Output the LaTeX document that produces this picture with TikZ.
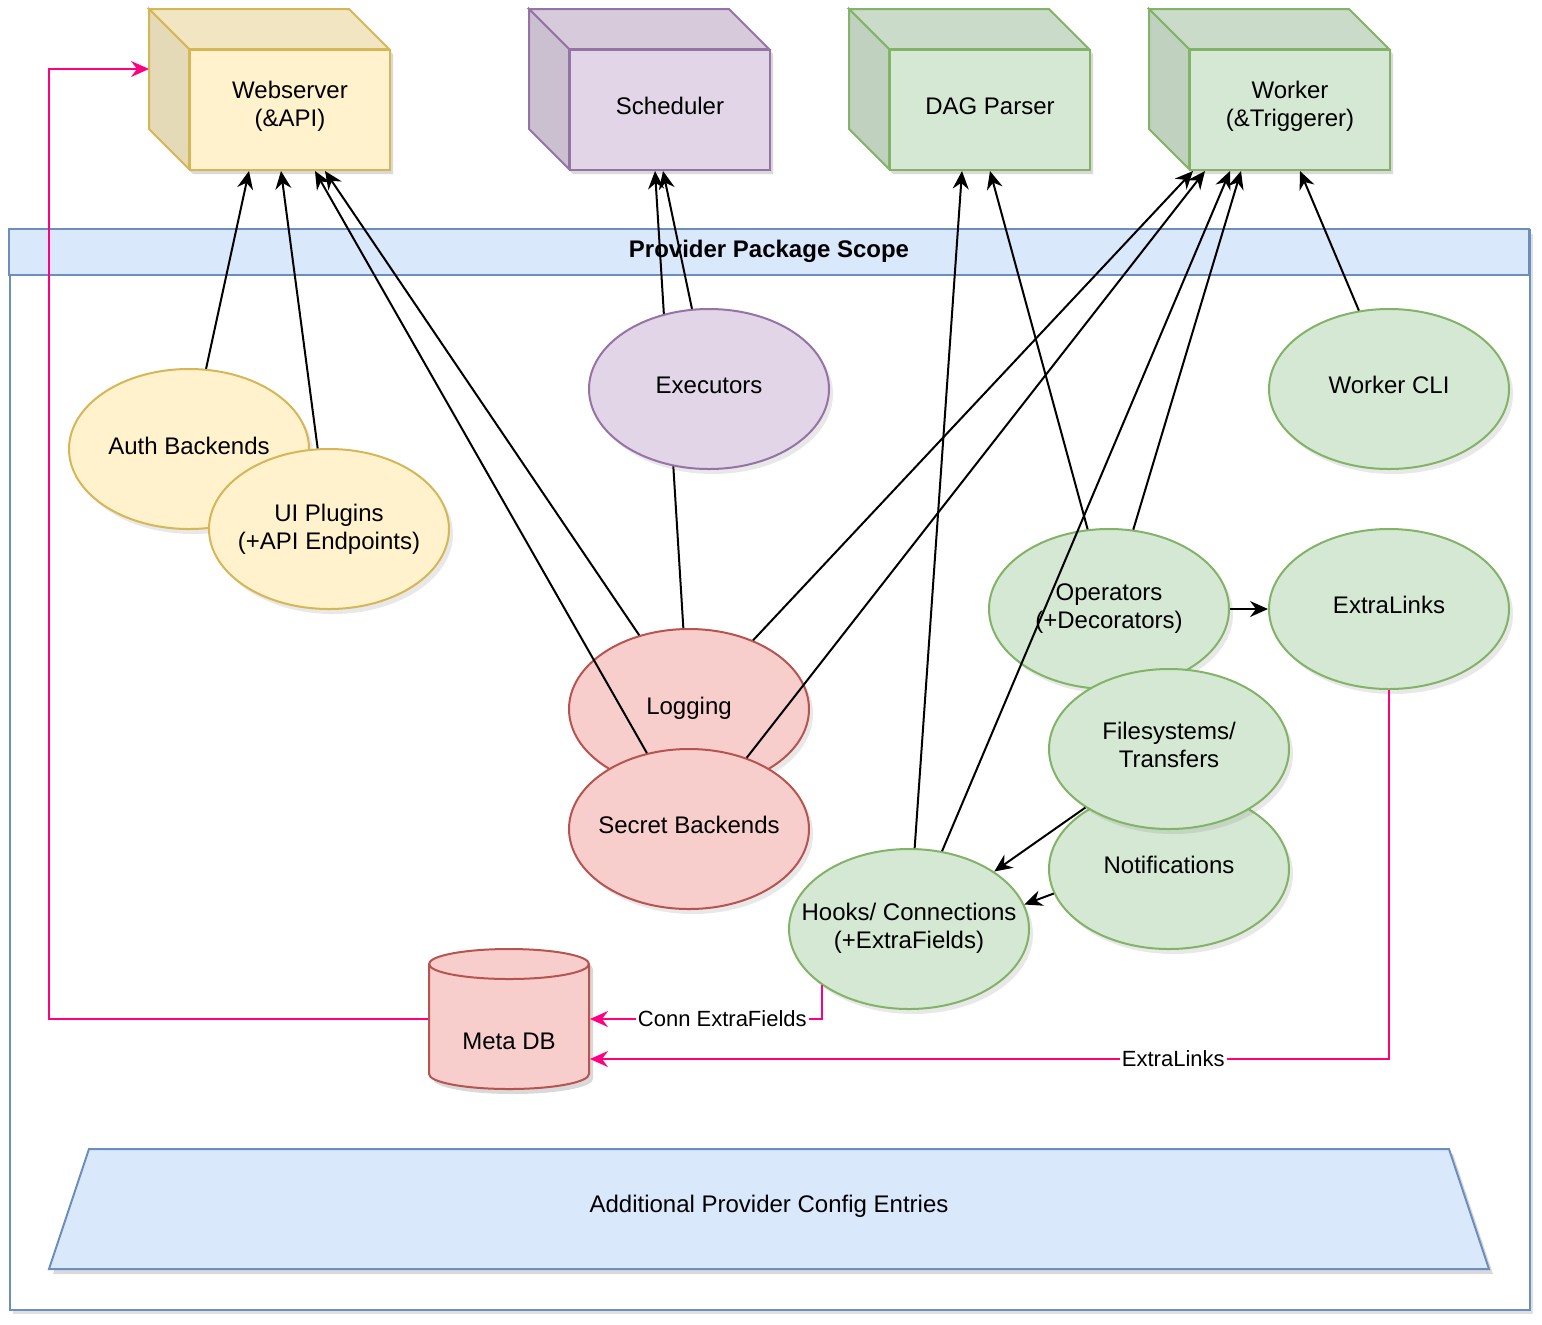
\documentclass[tikz,border=0pt]{standalone}
\usepackage{fontspec}
\setmainfont{Liberation Sans}
\usetikzlibrary{shapes.geometric,arrows.meta,shadows,calc}
\definecolor{yfill}{HTML}{FFF2CC}\definecolor{ystroke}{HTML}{D6B656}
\definecolor{pfill}{HTML}{E1D5E7}\definecolor{pstroke}{HTML}{9673A6}
\definecolor{gfill}{HTML}{D5E8D4}\definecolor{gstroke}{HTML}{82B366}
\definecolor{rfill}{HTML}{F8CECC}\definecolor{rstroke}{HTML}{B85450}
\definecolor{bfill}{HTML}{DAE8FC}\definecolor{bstroke}{HTML}{6C8EBF}
\definecolor{pinkline}{HTML}{FF0080}
\newcommand\mycube[5]{%
\begin{scope}[shift={(#2,9)}]
\fill[black,opacity=.15] (4,5)--(204,5)--(244,45)--(244,165)--(44,165)--(4,125)--cycle;
\filldraw[fill=#3!95!black,draw=#4] (0,0)--(200,0)--(240,40)--(40,40)--cycle;
\filldraw[fill=#3!90!black,draw=#4] (0,0)--(40,40)--(40,160)--(0,120)--cycle;
\node[draw=#4,fill=#3,minimum width=100pt,minimum height=60pt,inner sep=0pt,anchor=north west] (#1) at (40,40) {};
\node[align=center] (#1-t) at ([yshift=2pt]#1.center) {#5};
\end{scope}}
\begin{document}
\begin{tikzpicture}[x=0.5pt,y=-0.5pt,line width=1pt,
  font=\fontsize{12}{14}\selectfont,
  ell/.style={ellipse,draw,minimum width=120pt,minimum height=80pt,inner sep=0pt,
    drop shadow={shadow xshift=2pt,shadow yshift=-2.5pt,opacity=.18}},
  yell/.style={ell,fill=yfill,draw=ystroke},
  pell/.style={ell,fill=pfill,draw=pstroke},
  gell/.style={ell,fill=gfill,draw=gstroke},
  rell/.style={ell,fill=rfill,draw=rstroke},
  txt/.style={align=center,inner sep=1pt},
  edge/.style={-{Stealth[length=9pt,width=8pt,inset=3pt]},draw=black},
  pedge/.style={edge,draw=pinkline},
  lbl/.style={fill=white,inner sep=1pt,font=\fontsize{11}{13}\selectfont}]
\useasboundingbox (0,0) rectangle (1542,1324);

% container
\fill[black,opacity=.12] (13,234) rectangle (1533,1314);
\node[draw=bstroke,fill=white,minimum width=760pt,minimum height=540pt,inner sep=0pt,anchor=north west] (pps) at (9,229) {};
\filldraw[fill=bfill,draw=bstroke] (9,229) rectangle (1529,275);
\node[font=\fontsize{12}{14}\selectfont\bfseries] (ppst) at (769,251) {Provider Package Scope};

% cubes
\mycube{web}{149}{yfill}{ystroke}{Webserver\\(\&API)}
\mycube{sch}{529}{pfill}{pstroke}{Scheduler}
\mycube{dag}{849}{gfill}{gstroke}{DAG Parser}
\mycube{wrk}{1149}{gfill}{gstroke}{Worker\\(\&Triggerer)}

% trapezoid
\fill[black,opacity=.15] (53,1274)--(93,1154)--(1453,1154)--(1493,1274)--cycle;
\filldraw[fill=bfill,draw=bstroke] (49,1269)--(89,1149)--(1449,1149)--(1489,1269)--cycle;
\node (addl) at (769,1206) {Additional Provider Config Entries};

% Meta DB cylinder
\fill[black,opacity=.15] (433,969) -- (433,1079) arc[start angle=180,end angle=360,x radius=40pt,y radius=7.5pt] -- (593,969) arc[start angle=0,end angle=180,x radius=40pt,y radius=7.5pt] -- cycle;
\filldraw[fill=rfill,draw=rstroke] (429,964) -- (429,1074) arc[start angle=180,end angle=360,x radius=40pt,y radius=7.5pt] -- (589,964) arc[start angle=0,end angle=180,x radius=40pt,y radius=7.5pt] -- cycle;
\draw[rstroke] (429,964) arc[start angle=180,end angle=360,x radius=40pt,y radius=7.5pt];
\node[minimum width=80pt,minimum height=70pt,inner sep=0pt] (db) at (509,1019) {};
\node (dbt) at (509,1041) {Meta DB};

% ellipses
\node[yell] (auth) at (189,449) {};
\node[txt] (autht) at ([yshift=1.5pt]auth.center) {Auth Backends};
\node[yell] (ui) at (329,529) {};
\node[txt] (uit) at (ui) {UI Plugins\\(+API Endpoints)};
\node[rell] (log) at (689,709) {};
\node[txt] (logt) at ([yshift=0.5pt]log.center) {Logging};

% edge hidden behind Executors
\draw[edge] (log.94.3) -- ([xshift=43pt]sch.south west);

\node[rell] (sec) at (689,829) {};
\node[txt] (sect) at ([yshift=2pt]sec.center) {Secret Backends};
\node[pell] (exe) at (709,389) {};
\node[txt] (exet) at ([yshift=2pt]exe.center) {Executors};
\node[gell] (wcli) at (1389,389) {};
\node[txt] (wclit) at ([yshift=2pt]wcli.center) {Worker CLI};
\node[gell] (ops) at (1109,609) {};
\node[txt] (opst) at ([yshift=0pt]ops.center) {Operators\\(+Decorators)};
\node[gell] (xl) at (1389,609) {};
\node[txt] (xlt) at ([yshift=2pt]xl.center) {ExtraLinks};
\node[gell] (notif) at (1169,869) {};
\node[txt] (notift) at ([yshift=2pt]notif.center) {Notifications};
\node[gell] (fs) at (1169,749) {};
\node[txt] (fst) at ([yshift=2pt]fs.center) {Filesystems/\\Transfers};
\node[gell] (hooks) at (909,929) {};
\node[txt] (hookst) at ([yshift=0.5pt]hooks.center) {Hooks/ Connections\\(+ExtraFields)};

% black edges
\draw[edge] (auth.78) -- ([xshift=30pt]web.south west);
\draw[edge] (ui.98.5) -- ([xshift=46pt]web.south west);
\draw[edge] (log.124.2) -- ([xshift=68pt]web.south west);
\draw[edge] (sec.119.2) -- ([xshift=63pt]web.south west);
\draw[edge] (exe.102) -- ([xshift=47pt]sch.south west);
\draw[edge] (log.47.6) -- ([xshift=2pt]wrk.south west);
\draw[edge] (sec.51.7) -- ([xshift=8pt]wrk.south west);
\draw[edge] (hooks.67.1) -- ([xshift=20.5pt]wrk.south west);
\draw[edge] (ops.73.1) -- ([xshift=26pt]wrk.south west);
\draw[edge] (wcli.111.9) -- ([xshift=55.5pt]wrk.south west);
\draw[edge] (hooks.86.4) -- ([xshift=36.5pt]dag.south west);
\draw[edge] (ops.105.4) -- ([xshift=50.5pt]dag.south west);
\draw[edge] (ops.east) -- (xl.west);
\draw[edge] (fs.215.1) -- (hooks.34.9);
\draw[edge] (notif.192.8) -- (hooks.12);

% pink edges
\coordinate (lc) at (49,69);
\coordinate (webl) at (149,69);
\draw[pedge] (db.west) -| (lc) -- (webl);
\draw[pedge] (hooks.213.4) |- (db.east) node[lbl,pos=0.715] (l1) {Conn ExtraFields};
\draw[pedge] (xl.south) |- ([yshift=-20pt]db.east) node[lbl,pos=0.635] (l2) {ExtraLinks};
\end{tikzpicture}
\end{document}
